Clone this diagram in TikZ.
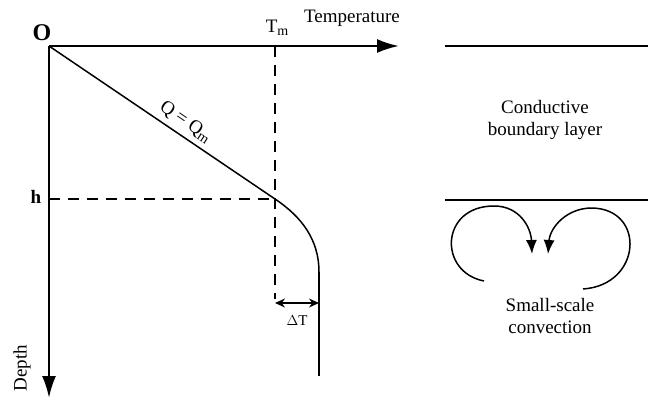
\documentclass[tikz,border=0pt]{standalone}
\usepackage{fontspec}
\setmainfont{Liberation Serif}
\usetikzlibrary{positioning,arrows.meta,calc}
\tikzset{
 axis/.style={line width=2.4pt, -{Latex[length=22pt,width=14pt]}},
 prof/.style={line width=1.5pt},
 guide/.style={line width=1.6pt, dash pattern=on 11pt off 8pt},
 layer/.style={line width=1.6pt},
 cell/.style={line width=1.5pt, -{Latex[length=14pt,width=11pt]}},
 gap/.style={line width=1.3pt, {Stealth[length=10pt,width=9pt]}-{Stealth[length=10pt,width=9pt]}},
 lbl/.style={font=\fontsize{19}{22}\selectfont, inner sep=1pt},
 big/.style={font=\fontsize{24}{26}\selectfont\bfseries, inner sep=1pt},
}
\newcommand{\subm}{\raisebox{-0.4ex}{\fontsize{14}{15}\selectfont m}}
\begin{document}
\begin{tikzpicture}[x=1pt,y=-1pt]
 \useasboundingbox (0,0) rectangle (648,399);
 % axes
 \coordinate (O) at (49,46);
 \coordinate (Tend) at (399,46);
 \coordinate (Dend) at (49,398);
 \draw[axis] (O) -- (Tend);
 \draw[axis] (O) -- (Dend);
 \node[big] (Olab) at (42,33) {O};
 \node[lbl] (Temp) at (352,18) {Temperature};
 \node[lbl, rotate=90] (Depth) at (22,368) {Depth};
 % guides
 \coordinate (Tmtop) at (275,46);
 \coordinate (Tmbot) at (275,299);
 \coordinate (knee) at (275,199);
 \coordinate (hleft) at (49,199);
 \draw[guide] (Tmtop) -- (Tmbot);
 \draw[guide] (hleft) -- (knee);
 \node[lbl] (Tm) at (277,28) {T\subm};
 \node[lbl, font=\fontsize{19}{22}\selectfont\bfseries] (h) at (36,197) {h};
 % geotherm
 \coordinate (bend) at (319,272);
 \coordinate (bot) at (319,376);
 \draw[prof] (O) -- node[lbl, sloped, above=4pt, pos=0.57] (Q) {Q = Q\subm} (knee);
 \draw[prof] (knee) .. controls (302,217) and (319,240) .. (bend);
 \draw[line width=2.2pt] (bend) -- (bot);
 % temperature jump
 \coordinate (dTl) at (275,303);
 \coordinate (dTr) at (319,303);
 \draw[gap] (dTl) -- (dTr);
 \node[lbl, font=\fontsize{15}{17}\selectfont] (dT) at (297,321) {$\Delta$T};
 % lithosphere
 \coordinate (topL) at (445,46);
 \coordinate (topR) at (648,46);
 \coordinate (midL) at (445,200);
 \coordinate (midR) at (648,200);
 \draw[layer] (topL) -- (topR);
 \draw[layer] (midL) -- (midR);
 \node[lbl, align=center] (CBL) at (545,120) {Conductive\\boundary layer};
 % convection cells
 \coordinate (c1s) at (484,281);
 \coordinate (c1e) at (532,254);
 \coordinate (c2s) at (583,289);
 \coordinate (c2e) at (548,254);
 \draw[cell] (c1s) .. controls (438,272) and (440,206) .. (494,206) .. controls (520,206) and (531,228) .. (c1e);
 \draw[cell] (c2s) .. controls (642,285) and (646,209) .. (592,208) .. controls (566,208) and (550,228) .. (c2e);
 \node[lbl, align=center] (SSC) at (550,316) {Small-scale\\convection};
\end{tikzpicture}
\end{document}
